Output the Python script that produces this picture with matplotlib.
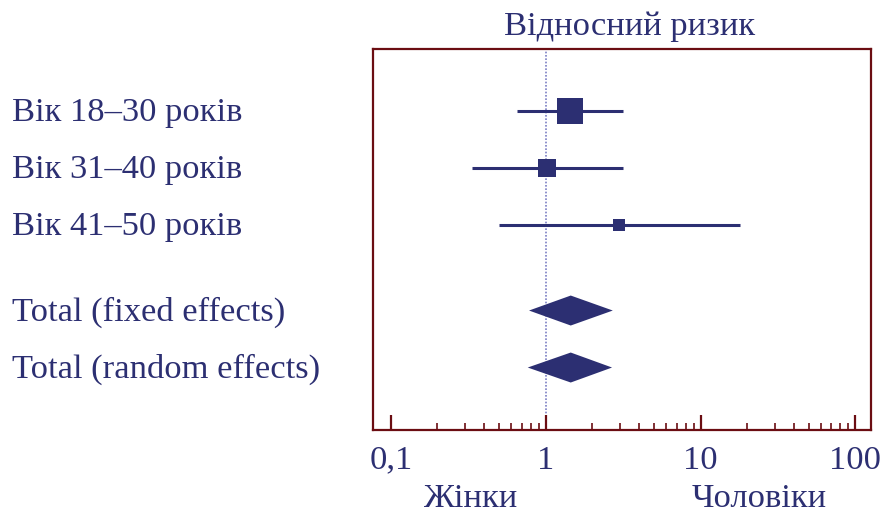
import numpy as np
import matplotlib
matplotlib.use("Agg")
import matplotlib.pyplot as plt
from matplotlib.ticker import FixedLocator, FixedFormatter, NullFormatter
from matplotlib.transforms import blended_transform_factory, offset_copy

# study rows: label, point estimate, 95% CI, weight (%)
study_labels = ["Вік 18–30 років", "Вік 31–40 років", "Вік 41–50 років"]
study_rr = [1.43, 1.02, 2.99]
study_lo = [0.65, 0.335, 0.50]
study_hi = [3.17, 3.15, 17.9]
study_weight = [58.9, 30.5, 10.6]

# pooled estimates
pooled_labels = ["Total (fixed effects)", "Total (random effects)"]
pooled_rr = [1.45, 1.45]
pooled_lo = [0.78, 0.765]
pooled_hi = [2.71, 2.68]

tick_values = [0.1, 1, 10, 100]
tick_labels = ["0,1", "1", "10", "100"]

NAVY = "#2c2f72"
FRAME = "#6b0d12"
FONT = ["Liberation Serif", "DejaVu Serif"]
FS = 24.8

plt.rcParams["font.family"] = FONT

fig = plt.figure(figsize=(8.85, 5.19), dpi=100)
ax = fig.add_axes([0.422, 0.1715, 0.5627, 0.734])
ax.set_xscale("log")
ax.set_xlim(0.0772, 126.8)

study_y = np.arange(len(study_rr))
pooled_y = np.array([3.5, 4.5])
ax.set_ylim(5.596, -1.088)

# line of no effect
ax.axvline(1, color="#7b7fc4", lw=1.2, ls=(0, (1, 1)), zorder=1)

for y, rr, lo, hi, w in zip(study_y, study_rr, study_lo, study_hi, study_weight):
    ax.plot([lo, hi], [y, y], color=NAVY, lw=2.2, solid_capstyle="butt", zorder=2)
    ax.plot(rr, y, marker="s", color=NAVY, ms=2.45 * np.sqrt(w), mew=0, zorder=3)

half = 0.263
for y, rr, lo, hi in zip(pooled_y, pooled_rr, pooled_lo, pooled_hi):
    ax.fill([lo, rr, hi, rr], [y, y - half, y, y + half], color=NAVY, lw=0, zorder=3)

# frame and ticks
for s in ax.spines.values():
    s.set_color(FRAME)
    s.set_linewidth(1.6)
ax.tick_params(axis="x", which="both", direction="in", colors=FRAME, top=False)
ax.tick_params(axis="x", which="major", length=11, width=1.6, pad=11,
               labelsize=FS, labelcolor=NAVY)
ax.tick_params(axis="x", which="minor", length=5, width=1.2)
ax.xaxis.set_major_locator(FixedLocator(tick_values))
ax.xaxis.set_major_formatter(FixedFormatter(tick_labels))
minor = [m * d for d in (0.1, 1, 10) for m in range(2, 10)]
ax.xaxis.set_minor_locator(FixedLocator(minor))
ax.xaxis.set_minor_formatter(NullFormatter())
ax.set_yticks([])

# row labels at the left edge of the figure, baseline just below the row
tr = offset_copy(blended_transform_factory(fig.transFigure, ax.transData),
                 fig=fig, y=-10, units="dots")
for y, lab in zip(list(study_y) + list(pooled_y), study_labels + pooled_labels):
    fig.text(12 / 885, y, lab, transform=tr, ha="left", va="baseline",
             fontsize=FS, color=NAVY)

fig.text(630 / 885, 1 - 34.5 / 519, "Відносний ризик", ha="center",
         va="baseline", fontsize=FS, color=NAVY)

tb = blended_transform_factory(ax.transData, fig.transFigure)
ax.text(0.33, 1 - 507 / 519, "Жінки", transform=tb, ha="center", va="baseline",
        fontsize=FS, color=NAVY)
ax.text(24, 1 - 507 / 519, "Чоловіки", transform=tb, ha="center", va="baseline",
        fontsize=FS, color=NAVY)

fig.savefig("out.png", dpi=100)
